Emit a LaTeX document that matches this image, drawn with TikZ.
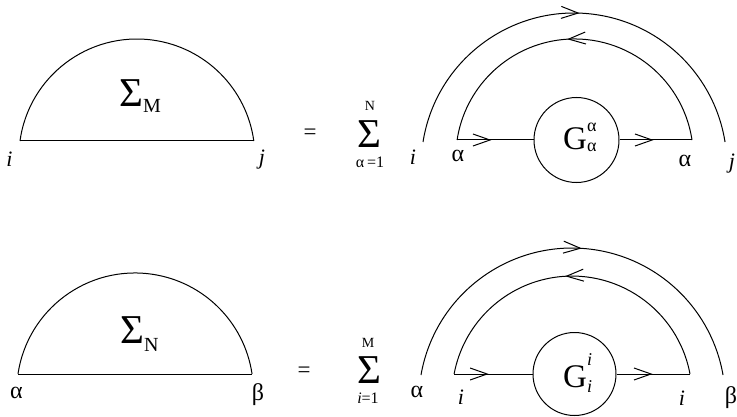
\documentclass[tikz,border=0pt]{standalone}
\usepackage{fontspec}
\setmainfont{Liberation Serif}
\usetikzlibrary{arrows.meta,decorations.markings}
\tikzset{
  ln/.style={line width=1pt},
  midarrow/.style={postaction={decorate},decoration={markings,mark=at position #1 with {\arrow{Straight Barb[length=17pt,width=12pt,line width=1pt]}}}},
  lbl/.style={inner sep=0pt,font=\fontsize{22}{22}\selectfont},
  glbl/.style={inner sep=0pt,font=\fontsize{24}{24}\selectfont},
  eqs/.style={inner sep=0pt,font=\fontsize{23}{23}\selectfont},
  bigsig/.style={anchor=base west,inner sep=0pt,font=\fontsize{41}{41}\selectfont},
  limtop/.style={inner sep=0pt,font=\fontsize{14}{14}\selectfont},
  limbot/.style={inner sep=0pt,font=\fontsize{16}{16}\selectfont},
  gcirc/.style={draw,circle,line width=1pt,inner sep=0pt},
  gtext/.style={anchor=base west,inner sep=0pt,font=\fontsize{33}{33}\selectfont},
}
\begin{document}
\begin{tikzpicture}[x=1pt,y=1pt]
\useasboundingbox (0,0) rectangle (737,416);

% ---------- top-left: Sigma_M ----------
\coordinate (TLa) at (20,275);
\draw[ln] (TLa) arc[start angle=172.2,end angle=7.8,radius=118pt] coordinate (TLb);
\draw[ln] (TLa) -- (TLb);
\node[bigsig] (SM) at (119,309) {Σ\raisebox{-6pt}{\fontsize{20}{20}\selectfont M}};
\node[lbl] (TLi) at (9.5,257) {\textit{i}};
\node[lbl] (TLj) at (262,256) {\textit{j}};

% ---------- bottom-left: Sigma_N ----------
\coordinate (BLa) at (18,42);
\draw[ln] (BLa) arc[start angle=171.6,end angle=8.4,radius=118.3pt] coordinate (BLb);
\draw[ln] (BLa) -- (BLb);
\node[bigsig] (SN) at (120,73) {Σ\raisebox{-8pt}{\fontsize{20}{20}\selectfont N}};
\node[glbl] (BLal) at (16.5,23) {α};
\node[glbl] (BLbe) at (258,21) {β};

% ---------- top-right ----------
\node[eqs] (EQ1) at (310,281.5) {=};
\node[bigsig] (S1) at (357,269) {Σ};
\node[limtop] (S1t) at (370,310) {N};
\node[limbot] (S1b) at (370,254) {α\thinspace=1};

\coordinate (oL1) at (423,274);
\draw[ln,midarrow=0.513] (oL1) arc[start angle=171,end angle=9,radius=152.9pt];
\coordinate (iR1) at (692,276);
\draw[ln,midarrow=0.522] (iR1) arc[start angle=8.6,end angle=171.4,radius=118.8pt] coordinate (iL1);
\node[gcirc,minimum size=85pt] (G1) at (576.5,276) {};
\draw[ln,midarrow=0.45] (iL1) -- (G1.west);
\draw[ln,midarrow=0.47] (G1.east) -- (iR1);
\node[gtext] (G1t) at (563,266) {G\fontsize{18}{18}\selectfont\rlap{\raisebox{18pt}{α}}\raisebox{-2pt}{α}};

\node[lbl] (TRi) at (413,259) {\textit{i}};
\node[glbl] (TRa1) at (458,260) {α};
\node[glbl] (TRa2) at (685,255) {α};
\node[lbl] (TRj) at (732,252) {\textit{j}};

% ---------- bottom-right ----------
\node[eqs] (EQ2) at (304,44) {=};
\node[bigsig] (S2) at (357,33) {Σ};
\node[limtop] (S2t) at (368,73) {M};
\node[limbot] (S2b) at (368,18) {\textit{i}=1};

\coordinate (oL2) at (421,41);
\draw[ln,midarrow=0.523] (oL2) arc[start angle=170.1,end angle=9.9,radius=153.3pt];
\coordinate (iR2) at (690,42);
\draw[ln,midarrow=0.521] (iR2) arc[start angle=10.6,end angle=169.4,radius=120pt] coordinate (iL2);
\node[gcirc,minimum size=83pt] (G2) at (574.5,42) {};
\draw[ln,midarrow=0.44] (iL2) -- (G2.west);
\draw[ln,midarrow=0.49] (G2.east) -- (iR2);
\node[gtext] (G2t) at (563,29) {G\fontsize{18}{18}\selectfont\rlap{\raisebox{22pt}{\textit{i}}}\raisebox{-5pt}{\textit{i}}};

\node[glbl] (BRa) at (417,24) {α};
\node[lbl] (BRi1) at (461,19) {\textit{i}};
\node[lbl] (BRi2) at (682,18) {\textit{i}};
\node[glbl] (BRb) at (731,18) {β};
\end{tikzpicture}
\end{document}
